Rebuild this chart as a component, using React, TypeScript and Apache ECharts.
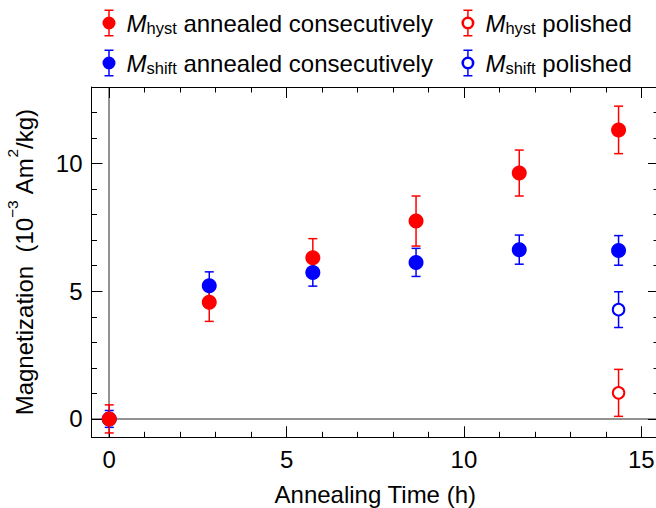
import React, { useEffect, useRef } from 'react';
import * as echarts from 'echarts';

const RED = '#ff0000';
const BLUE = '#0000ff';
const FONT = '"Liberation Sans", Arial, sans-serif';

// Annealing time (h)
const consecTime = [0, 2.82, 5.74, 8.65, 11.56, 14.36];
// M_hyst annealed consecutively (10^-3 Am^2/kg)
const hystValue = [0, 4.57, 6.31, 7.75, 9.63, 11.32];
const hystError = [0.55, 0.75, 0.75, 0.98, 0.9, 0.93];
// M_shift annealed consecutively
const shiftValue = [0, 5.22, 5.73, 6.13, 6.63, 6.6];
const shiftError = [0.33, 0.54, 0.53, 0.55, 0.57, 0.58];
// polished samples
const polishedTime = [14.36];
const hystPolValue = [1.02];
const hystPolError = [0.92];
const shiftPolValue = [4.28];
const shiftPolError = [0.7];

const xTickLabels = [0, 5, 10, 15];
const yTickLabels = [0, 5, 10];

const NAME_HC = 'Mhyst annealed consecutively';
const NAME_HP = 'Mhyst polished';
const NAME_SC = 'Mshift annealed consecutively';
const NAME_SP = 'Mshift polished';

const legendRich: Record<string, string> = {
  [NAME_HC]: '{it|M}{sub|hyst}{t| annealed consecutively}',
  [NAME_HP]: '{it|M}{sub|hyst}{t| polished}',
  [NAME_SC]: '{it|M}{sub|shift}{t| annealed consecutively}',
  [NAME_SP]: '{it|M}{sub|shift}{t| polished}',
};

const ICON_FILLED =
  'path://M5.75,0H7.25V27H5.75Z M2,0H11V1.5H2Z M2,25.5H11V27H2Z M0,13.5A6.5,6.5,0,1,1,13,13.5A6.5,6.5,0,1,1,0,13.5Z';
const ICON_OPEN =
  'path://M5.75,0H7.25V7.2H5.75Z M5.75,19.8H7.25V27H5.75Z M2,0H11V1.5H2Z M2,25.5H11V27H2Z M0,13.5A6.5,6.5,0,1,1,13,13.5A6.5,6.5,0,1,1,0,13.5Z M2.6,13.5A3.9,3.9,0,1,0,10.4,13.5A3.9,3.9,0,1,0,2.6,13.5Z';

const zip3 = (xs: number[], ys: number[], es: number[]) => xs.map((x, i) => [x, ys[i], es[i]]);

const errRender = (color: string) => (params: any, api: any) => {
  const x = api.value(0);
  const y = api.value(1);
  const e = api.value(2);
  const top = api.coord([x, y + e]);
  const bot = api.coord([x, y - e]);
  const hw = 4.5;
  const style = { stroke: color, lineWidth: 1.5, fill: 'none' };
  return {
    type: 'group',
    children: [
      { type: 'line', shape: { x1: top[0], y1: top[1], x2: bot[0], y2: bot[1] }, style },
      { type: 'line', shape: { x1: top[0] - hw, y1: top[1], x2: top[0] + hw, y2: top[1] }, style },
      { type: 'line', shape: { x1: bot[0] - hw, y1: bot[1], x2: bot[0] + hw, y2: bot[1] }, style },
    ],
  };
};

const axisCommon = (labels: number[], show: boolean) => ({
  type: 'value' as const,
  minInterval: 5,
  maxInterval: 5,
  splitNumber: 3,
  splitLine: { show: false },
  axisLine: { show: true, onZero: false, lineStyle: { color: '#000', width: 1 } },
  axisTick: { show: true, inside: true, length: 11, lineStyle: { color: '#000', width: 1 } },
  minorTick: { show: true, splitNumber: 5, length: 5.5, lineStyle: { color: '#000', width: 1 } },
  axisLabel: {
    show,
    fontSize: 24,
    fontFamily: FONT,
    color: '#000',
    margin: 9,
    lineHeight: 27,
    showMinLabel: false,
    showMaxLabel: false,
    formatter: (v: number) => (labels.includes(v) ? String(v) : ''),
  },
});

export default function App() {
  const ref = useRef<HTMLDivElement>(null);
  useEffect(() => {
    if (!ref.current) return;
    const chart = echarts.init(ref.current, null, { renderer: 'svg' });
    const legendText = {
      fontFamily: FONT,
      fontSize: 24,
      color: '#000',
      rich: {
        it: { fontFamily: FONT, fontSize: 24, fontStyle: 'italic', lineHeight: 28, padding: [0, 0, 0, 6] },
        sub: { fontFamily: FONT, fontSize: 16.5, lineHeight: 16, padding: [10, 0, 0, 0] },
        t: { fontFamily: FONT, fontSize: 24, lineHeight: 28 },
      },
    };
    const legendBase = {
      orient: 'horizontal',
      left: 102.5,
      padding: 0,
      itemGap: 28.5,
      itemWidth: 13,
      itemHeight: 27,
      selectedMode: false,
      itemStyle: { borderWidth: 0 },
      formatter: (name: string) => legendRich[name] || name,
      textStyle: legendText,
    };
    const xMin = -0.5, xMax = 15.5, yMin = -0.72, yMax = 13;
    chart.setOption({
      animation: false,
      grid: {
        left: 91.5,
        top: 87,
        width: 567.5,
        height: 350.3,
        containLabel: false,
        outerBoundsMode: 'none',
      },
      legend: [
        {
          ...legendBase,
          top: 9.5,
          data: [
            { name: NAME_HC, icon: ICON_FILLED },
            { name: NAME_HP, icon: ICON_OPEN },
          ],
        },
        {
          ...legendBase,
          top: 49.5,
          data: [
            { name: NAME_SC, icon: ICON_FILLED },
            { name: NAME_SP, icon: ICON_OPEN },
          ],
        },
      ],
      xAxis: [
        {
          ...axisCommon(xTickLabels, true),
          position: 'bottom',
          min: xMin,
          max: xMax,
          name: 'Annealing Time (h)',
          nameLocation: 'middle',
          nameGap: 43,
          nameTextStyle: { fontFamily: FONT, fontSize: 24, color: '#000', lineHeight: 28 },
        },
        { ...axisCommon(xTickLabels, false), position: 'top', min: xMin, max: xMax },
      ],
      yAxis: [
        {
          ...axisCommon(yTickLabels, true),
          position: 'left',
          min: yMin,
          max: yMax,
          name: '{t|Magnetization  (10}{sup|\u22123}{t| Am}{sup|2}{t|/kg)}',
          nameLocation: 'middle',
          nameGap: 39,
          nameTextStyle: {
            fontFamily: FONT,
            fontSize: 24,
            color: '#000',
            rich: {
              t: { fontFamily: FONT, fontSize: 24, lineHeight: 28 },
              sup: { fontFamily: FONT, fontSize: 15.5, lineHeight: 15, padding: [0, 0, 24, 0] },
            },
          },
        },
        { ...axisCommon(yTickLabels, false), position: 'right', min: yMin, max: yMax },
      ],
      series: [
        {
          name: NAME_SC,
          type: 'scatter',
          z: 3,
          silent: true,
          symbol: 'circle',
          symbolSize: 15,
          itemStyle: { color: BLUE, borderWidth: 0, opacity: 1 },
          data: zip3(consecTime, shiftValue, shiftError),
          markLine: {
            z: 0,
            silent: true,
            symbol: ['none', 'none'],
            label: { show: false },
            lineStyle: { color: '#6e6e6e', width: 1.5, type: 'solid' },
            data: [{ xAxis: 0 }, { yAxis: 0 }],
          },
        },
        {
          name: NAME_SP,
          type: 'scatter',
          z: 3,
          silent: true,
          symbol: 'emptyCircle',
          symbolSize: 11.5,
          itemStyle: { color: BLUE, borderColor: BLUE, borderWidth: 2.7, opacity: 1 },
          data: zip3(polishedTime, shiftPolValue, shiftPolError),
        },
        {
          name: NAME_HC,
          type: 'scatter',
          z: 4,
          silent: true,
          symbol: 'circle',
          symbolSize: 15,
          itemStyle: { color: RED, borderWidth: 0, opacity: 1 },
          data: zip3(consecTime, hystValue, hystError),
        },
        {
          name: NAME_HP,
          type: 'scatter',
          z: 4,
          silent: true,
          symbol: 'emptyCircle',
          symbolSize: 11.5,
          itemStyle: { color: RED, borderColor: RED, borderWidth: 2.7, opacity: 1 },
          data: zip3(polishedTime, hystPolValue, hystPolError),
        },
        {
          name: NAME_SC, type: 'custom', z: 2, silent: true, itemStyle: { color: BLUE },
          encode: { x: 0, y: 1 }, renderItem: errRender(BLUE),
          data: zip3(consecTime, shiftValue, shiftError),
        },
        {
          name: NAME_SP, type: 'custom', z: 2, silent: true, itemStyle: { color: BLUE },
          encode: { x: 0, y: 1 }, renderItem: errRender(BLUE),
          data: zip3(polishedTime, shiftPolValue, shiftPolError),
        },
        {
          name: NAME_HC, type: 'custom', z: 2, silent: true, itemStyle: { color: RED },
          encode: { x: 0, y: 1 }, renderItem: errRender(RED),
          data: zip3(consecTime, hystValue, hystError),
        },
        {
          name: NAME_HP, type: 'custom', z: 2, silent: true, itemStyle: { color: RED },
          encode: { x: 0, y: 1 }, renderItem: errRender(RED),
          data: zip3(polishedTime, hystPolValue, hystPolError),
        },
      ],
    });
    return () => chart.dispose();
  }, []);
  return (
    <div
      ref={ref}
      style={{ position: 'absolute', left: 0, top: 0, width: 656, height: 508, background: '#fff' }}
    />
  );
}
